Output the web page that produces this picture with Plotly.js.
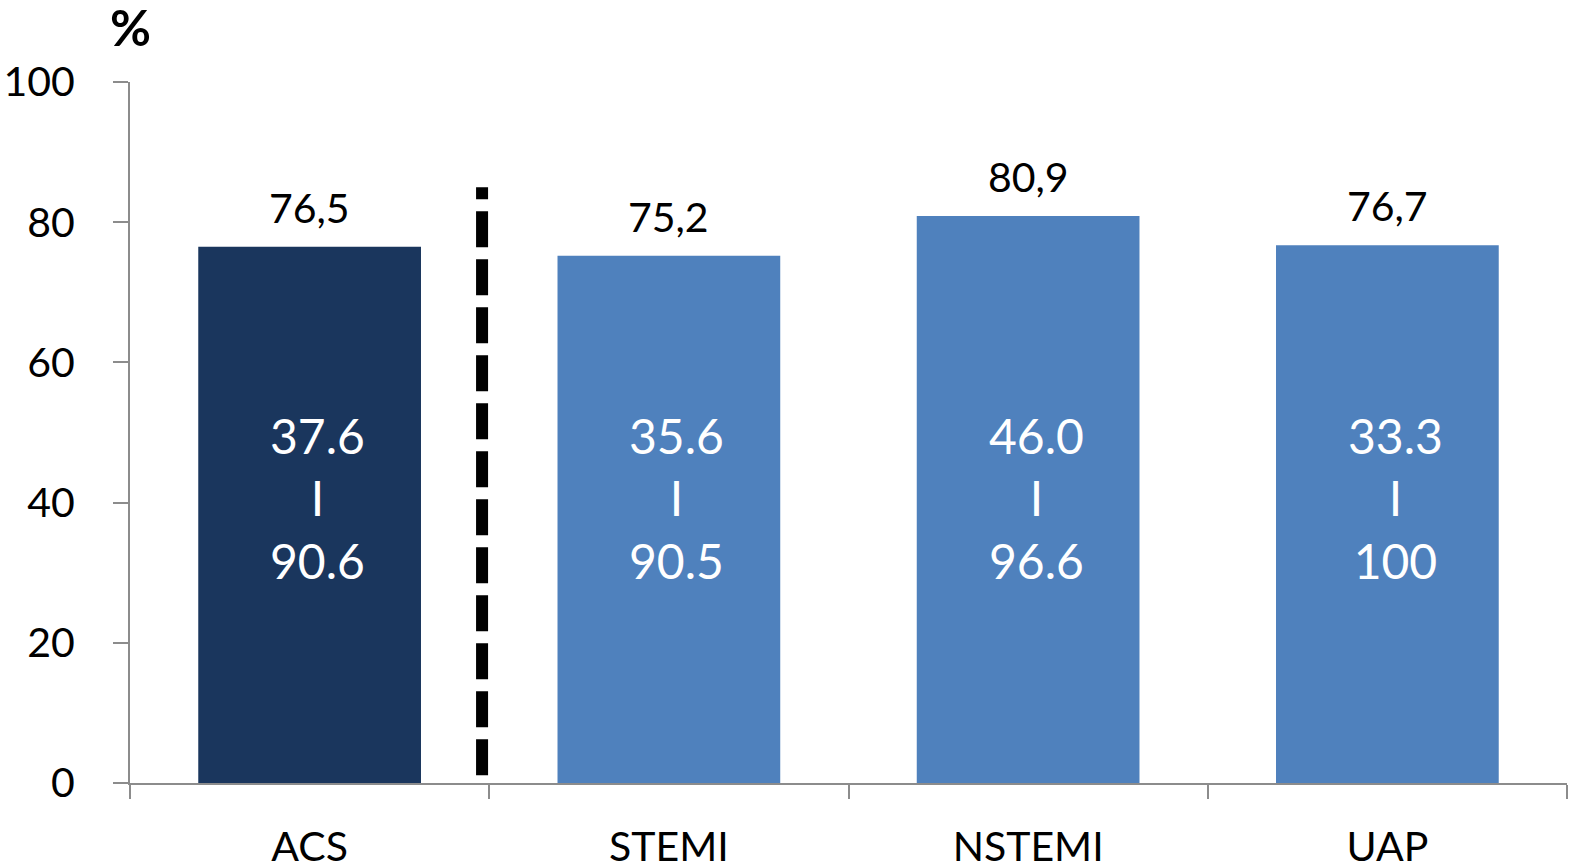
<!DOCTYPE html>
<html>
<head>
<meta charset="utf-8">
<script src="https://cdn.plot.ly/plotly-3.0.1.min.js"></script>
<style>
  html, body { margin: 0; padding: 0; background: #fff; }
  #chart { width: 1569px; height: 866px; }
</style>
</head>
<body>
<div id="chart"></div>
<script>
// Categories and values
const categories = ['ACS', 'STEMI', 'NSTEMI', 'UAP'];
const values = [76.5, 75.2, 80.9, 76.7];
const rangeLow = ['37.6', '35.6', '46.0', '33.3'];
const rangeHigh = ['90.6', '90.5', '96.6', '100'];
const barColors = ['#1a365d', '#4f81bd', '#4f81bd', '#4f81bd'];
const yTicks = [0, 20, 40, 60, 80, 100];

const FONT = 'Lato, "Liberation Sans", sans-serif';

const trace = {
  type: 'bar',
  x: categories,
  y: values,
  width: 0.62,
  marker: { color: barColors, line: { width: 0 } },
  hoverinfo: 'skip'
};

// value labels above each bar (decimal comma)
const valueLabels = categories.map((c, i) => ({
  x: c, y: values[i], xref: 'x', yref: 'y',
  text: values[i].toFixed(1).replace('.', ','),
  showarrow: false, yanchor: 'bottom', yshift: 13,
  font: { family: FONT, size: 41, color: '#000' }
}));

// range labels inside each bar
const rangeLabels = categories.map((c, i) => ({
  x: c, y: 40.6, xref: 'x', yref: 'y', xshift: 8,
  text: rangeLow[i] + '<br>I<br>' + rangeHigh[i],
  showarrow: false, yanchor: 'middle',
  font: { family: FONT, size: 48, color: '#fff' }
}));

const percentLabel = {
  xref: 'paper', yref: 'paper', x: 0, y: 1, xanchor: 'center', yanchor: 'middle',
  yshift: 55, text: '<b>%</b>', showarrow: false,
  font: { family: FONT, size: 50, color: '#000' }
};

const layout = {
  width: 1569, height: 866,
  margin: { l: 130, r: 2, t: 82, b: 83 },
  paper_bgcolor: '#fff', plot_bgcolor: '#fff',
  showlegend: false,
  font: { family: FONT, size: 40, color: '#000' },
  xaxis: {
    type: 'category', range: [-0.5, 3.5],
    showline: true, linecolor: '#8c8c8c', linewidth: 2,
    ticks: 'outside', tickson: 'boundaries', ticklen: 14, tickcolor: '#8c8c8c', tickwidth: 2,
    ticklabelstandoff: 27,
    tickfont: { family: FONT, size: 41, color: '#000' },
    showgrid: false, zeroline: false, fixedrange: true
  },
  yaxis: {
    range: [0, 100], tickvals: yTicks,
    showline: true, linecolor: '#8c8c8c', linewidth: 2,
    ticks: 'outside', ticklen: 15, tickcolor: '#8c8c8c', tickwidth: 2,
    ticklabelstandoff: 30,
    tickfont: { family: FONT, size: 41, color: '#000' },
    showgrid: false, zeroline: false, fixedrange: true
  },
  shapes: [{
    type: 'line', xref: 'x', yref: 'y',
    x0: 0.48, x1: 0.48, y0: 1.1, y1: 85,
    line: { color: '#000', width: 12, dash: '36px,12px' }
  }],
  annotations: [...valueLabels, ...rangeLabels, percentLabel]
};

Plotly.newPlot('chart', [trace], layout, { displayModeBar: false, staticPlot: true });
</script>
</body>
</html>
